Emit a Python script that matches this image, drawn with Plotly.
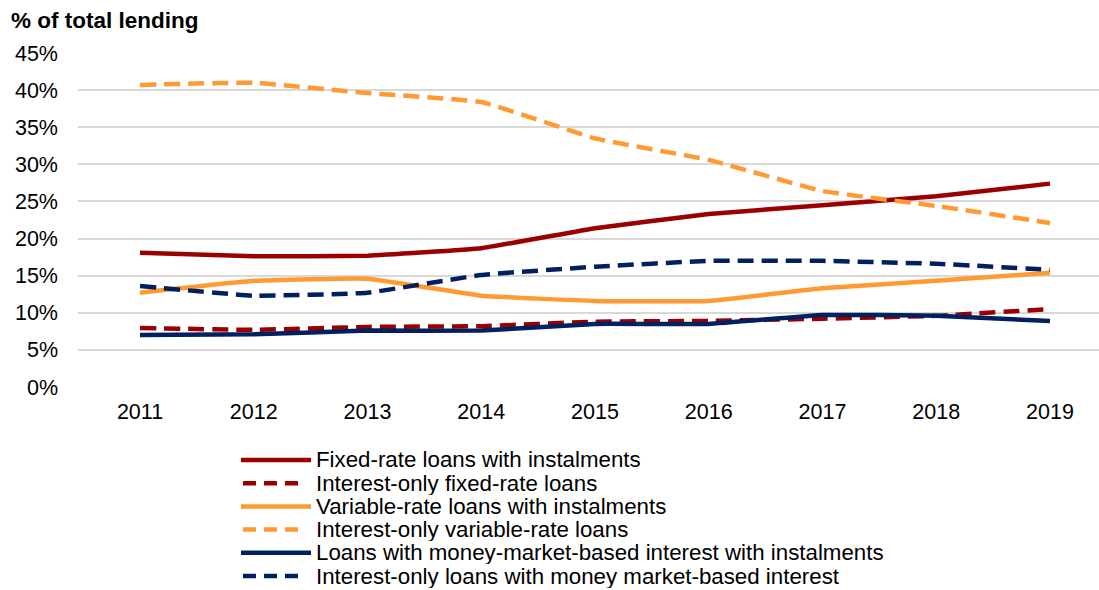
import plotly.graph_objects as go

years = [2011, 2012, 2013, 2014, 2015, 2016, 2017, 2018, 2019]

fixed_instalments = [18.1, 17.6, 17.7, 18.7, 21.4, 23.3, 24.5, 25.7, 27.4]
fixed_interest_only = [7.95, 7.7, 8.1, 8.2, 8.8, 8.9, 9.2, 9.6, 10.5]
variable_instalments = [12.7, 14.3, 14.6, 12.3, 11.6, 11.6, 13.3, 14.3, 15.4]
variable_interest_only = [40.7, 41.0, 39.6, 38.4, 33.5, 30.6, 26.4, 24.4, 22.1]
mm_instalments = [7.0, 7.1, 7.6, 7.6, 8.5, 8.5, 9.7, 9.6, 8.9]
mm_interest_only = [13.6, 12.3, 12.7, 15.1, 16.2, 17.0, 17.0, 16.6, 15.8]

series_names = [
    "Fixed-rate loans with instalments",
    "Interest-only fixed-rate loans",
    "Variable-rate loans with instalments",
    "Interest-only variable-rate loans",
    "Loans with money-market-based interest with instalments",
    "Interest-only loans with money market-based interest",
]
series_values = [
    fixed_instalments,
    fixed_interest_only,
    variable_instalments,
    variable_interest_only,
    mm_instalments,
    mm_interest_only,
]

DARK_RED = "#9B0000"
ORANGE = "#FF9A33"
NAVY = "#002060"
series_colors = [DARK_RED, DARK_RED, ORANGE, ORANGE, NAVY, NAVY]
series_dashed = [False, True, False, True, False, True]

y_ticks = [0, 5, 10, 15, 20, 25, 30, 35, 40, 45]
y_tick_labels = [f"{v}%" for v in y_ticks]

FONT = "Liberation Sans, Arial, sans-serif"
DASH = "16px,8px"

# Plot-area geometry in pixels (used to place the legend and heading)
W, H = 1099, 590
PLOT_L, PLOT_R, PLOT_T, PLOT_B = 78, 1099, 53, 387


def px_to_paper_x(px):
    return (px - PLOT_L) / (PLOT_R - PLOT_L)


def px_to_paper_y(py):
    return (PLOT_B - py) / (PLOT_B - PLOT_T)


fig = go.Figure()
for name, vals, col, dashed in zip(series_names, series_values, series_colors, series_dashed):
    fig.add_trace(
        go.Scatter(
            x=years,
            y=vals,
            name=name,
            mode="lines",
            line=dict(color=col, width=4.5, dash=DASH if dashed else "solid",
                      shape="spline", smoothing=0.3),
            showlegend=False,
        )
    )

# Legend beneath the plot: line key followed by its label
row_centers = [460, 483.2, 506.4, 529.6, 552.8, 576]
for name, col, dashed, yc in zip(series_names, series_colors, series_dashed, row_centers):
    yp = px_to_paper_y(yc)
    fig.add_shape(
        type="line", xref="paper", yref="paper",
        x0=px_to_paper_x(243 if dashed else 241),
        x1=px_to_paper_x(306 if dashed else 311),
        y0=yp, y1=yp,
        line=dict(color=col, width=4.5, dash="13px,8px" if dashed else "solid"),
    )
    fig.add_annotation(
        xref="paper", yref="paper", x=px_to_paper_x(315), y=yp,
        text=name, showarrow=False, xanchor="left", yanchor="middle",
        height=23, valign="middle", borderpad=0,
        font=dict(family=FONT, size=22.3, color="#000000"),
    )

fig.add_annotation(
    xref="paper", yref="paper", x=px_to_paper_x(9), y=px_to_paper_y(21),
    text="<b>% of total lending</b>", showarrow=False,
    xanchor="left", yanchor="middle",
    font=dict(family=FONT, size=22.5, color="#000000"),
)

fig.update_layout(
    width=W,
    height=H,
    margin=dict(l=PLOT_L, r=W - PLOT_R, t=PLOT_T, b=H - PLOT_B),
    paper_bgcolor="white",
    plot_bgcolor="white",
    font=dict(family=FONT, size=21.5, color="#000000"),
    xaxis=dict(
        range=[2010.455, 2019.431],
        tickmode="array",
        tickvals=years,
        ticktext=[str(y) for y in years],
        showgrid=False,
        zeroline=False,
        showline=False,
        ticks="",
        ticklabelstandoff=9,
        tickfont=dict(family=FONT, size=21.5),
    ),
    yaxis=dict(
        range=[0, 45],
        tickmode="array",
        tickvals=y_ticks,
        ticktext=y_tick_labels,
        showgrid=True,
        gridcolor="#D9D9D9",
        gridwidth=1.5,
        zeroline=False,
        showline=False,
        ticks="",
        ticklabelstandoff=19,
        tickfont=dict(family=FONT, size=21.5),
    ),
)

fig.write_html("out.html")
